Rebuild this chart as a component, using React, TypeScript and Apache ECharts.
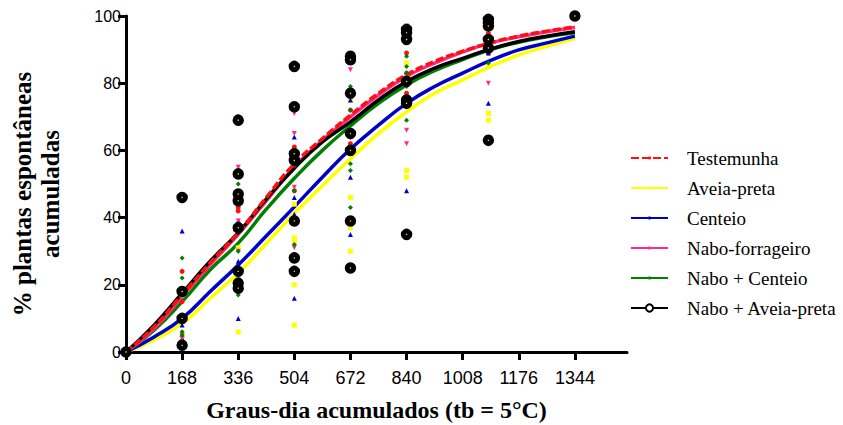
import React, { useEffect, useRef } from "react";
import * as echarts from "echarts";

const seriesNames = [
  "Testemunha",
  "Aveia-preta",
  "Centeio",
  "Nabo-forrageiro",
  "Nabo + Centeio",
  "Nabo + Aveia-preta",
];

const xTicks = [0, 168, 336, 504, 672, 840, 1008, 1176, 1344];
const yTitleLines = ["% plantas espontâneas", "acumuladas"];
const xTitle = "Graus-dia acumulados (tb = 5°C)";

// fitted curves
const curveX = [0, 84, 168, 252, 336, 420, 504, 588, 672, 756, 840, 924, 1008, 1092, 1176, 1260, 1344];
const curveTestemunha = [0, 7.5, 17, 26.5, 35.5, 46, 56, 63.5, 70.5, 77, 82.5, 86.5, 89.5, 92, 94, 95.5, 96.8];
const curveAveia = [0, 3.6, 8.5, 16, 23.5, 32.3, 41.3, 49.5, 57.5, 65, 71.5, 77, 81, 85, 88.4, 91, 93.3];
const curveCenteio = [0, 4.5, 10, 18, 25.9, 34.5, 43.2, 52, 60.4, 67.5, 74, 79, 83, 86.8, 89.9, 92, 94];
const curveNabo = [0, 7, 16.5, 26, 35, 45, 55, 63, 70, 76.5, 82, 86, 89.3, 92, 93.8, 95.3, 96.6];
const curveNaboCenteio = [0, 6.5, 15, 24.5, 32.4, 42.5, 51.7, 60, 67.3, 74, 79.5, 83.7, 87, 90, 92.2, 93.8, 95];
const curveNaboAveia = [0, 8, 17.5, 27, 35.5, 45.5, 54.7, 62.5, 68.5, 75, 80.5, 84.5, 87.4, 90.2, 92.4, 94, 95.3];

// observed points [x, y]
const obsTestemunha = [
  [0, 0], [168, 24], [168, 17], [168, 15], [336, 43], [336, 42], [336, 36],
  [504, 61], [504, 55.6], [504, 48], [672, 78], [672, 72], [672, 62],
  [840, 89], [840, 83], [840, 77], [1085, 95], [1085, 92], [1085, 89], [1344, 100],
];
const obsAveia = [
  [0, 0], [168, 17], [168, 5], [168, 3], [336, 31], [336, 22], [336, 6],
  [504, 44], [504, 34], [504, 33], [504, 20], [504, 8],
  [672, 75], [672, 46], [672, 37], [672, 30],
  [840, 86], [840, 54], [840, 52], [1085, 96], [1085, 85], [1085, 71], [1085, 69], [1344, 100],
];
const obsCenteio = [
  [0, 0], [168, 36], [168, 8], [168, 4], [336, 39], [336, 27], [336, 25], [336, 10],
  [504, 64], [504, 46], [504, 41], [504, 16], [672, 75], [672, 52], [672, 35],
  [840, 81], [840, 48], [1085, 89], [1085, 74], [1344, 100],
];
const obsNabo = [
  [0, 0], [168, 5], [168, 4], [336, 55], [336, 39], [336, 30],
  [504, 71], [504, 65], [504, 49], [504, 31], [672, 84], [672, 60],
  [840, 97], [840, 66], [840, 62], [1085, 97], [1085, 80], [1344, 100],
];
const obsNaboCenteio = [
  [0, 0], [168, 28], [168, 22], [168, 6], [168, 5], [336, 50], [336, 30], [336, 17],
  [504, 48], [504, 32], [672, 79], [672, 72], [672, 64], [672, 56], [672, 54], [672, 43],
  [840, 88], [840, 85], [840, 83], [840, 79], [840, 69], [1085, 93], [1085, 86], [1344, 100],
];
const obsNaboAveia = [
  [0, 0], [168, 46], [168, 18], [168, 10], [168, 2],
  [336, 69], [336, 53], [336, 47], [336, 45], [336, 37], [336, 24], [336, 20.5], [336, 19],
  [504, 85], [504, 73], [504, 59], [504, 57], [504, 39], [504, 28], [504, 24],
  [672, 88], [672, 87], [672, 77], [672, 65], [672, 60], [672, 39], [672, 25],
  [840, 96], [840, 95], [840, 93], [840, 80.5], [840, 75], [840, 74], [840, 35],
  [1085, 99], [1085, 98], [1085, 97], [1085, 93], [1085, 90.5], [1085, 63], [1344, 100],
];

const colors = ["#ff1010", "#ffff00", "#0000cc", "#ff2b8a", "#008000", "#000000"];

function pairs(xs: number[], ys: number[]) {
  return xs.map((x, i) => [x, ys[i]]);
}

export default function App() {
  const ref = useRef<HTMLDivElement>(null);
  useEffect(() => {
    if (!ref.current) return;
    const chart = echarts.init(ref.current, undefined, { renderer: "svg" });
    const curves = [curveTestemunha, curveAveia, curveCenteio, curveNabo, curveNaboCenteio, curveNaboAveia];
    const obs = [obsTestemunha, obsAveia, obsCenteio, obsNabo, obsNaboCenteio, obsNaboAveia];
    const lineOrder = [1, 2, 4, 3, 5, 0];
    const lineSeries = lineOrder.map((i) => ({
      type: "line",
      name: seriesNames[i],
      data: pairs(curveX, curves[i]),
      smooth: true,
      showSymbol: false,
      symbol: "circle",
      symbolSize: 8,
      itemStyle: i === 5 ? { color: "#fff", borderColor: "#000", borderWidth: 3 } : { color: colors[i] },
      lineStyle: { color: colors[i], width: 3.5, type: i === 0 ? [8, 3] : "solid" },
      z: 2,
    }));
    const symbols = ["circle", "rect", "triangle", "triangle", "diamond", "circle"];
    const scatterSeries = [0, 1, 2, 3, 4, 5].map((i) => ({
      type: "scatter",
      name: seriesNames[i],
      data: obs[i],
      symbol: symbols[i],
      symbolRotate: i === 3 ? 180 : 0,
      symbolSize: i === 5 ? 6.5 : 5,
      itemStyle:
        i === 5
          ? { color: "#e8e800", borderColor: "#000", borderWidth: 5, opacity: 1 }
          : { color: colors[i], opacity: 1 },
      z: 3,
    }));
    const legendText = {
      fontFamily: "Liberation Serif",
      fontSize: 19,
      color: "#000",
      lineHeight: 20,
      padding: [0, 0, 0, 14],
    };
    const titleStyle = {
      fontFamily: "Liberation Serif",
      fontWeight: "bold",
      fontSize: 25,
      fill: "#000",
      textAlign: "center",
      textVerticalAlign: "middle",
    };
    chart.setOption({
      animation: false,
      grid: { left: 126, right: 216, top: 16, bottom: 73, containLabel: false, outerBoundsMode: "none" },
      graphic: [
        { type: "text", x: 22, y: 194, rotation: Math.PI / 2, style: { ...titleStyle, text: yTitleLines[0] } },
        { type: "text", x: 50, y: 194, rotation: Math.PI / 2, style: { ...titleStyle, text: yTitleLines[1] } },
      ],
      legend: [
        {
          orient: "vertical",
          left: 625,
          top: 143,
          itemWidth: 37,
          itemHeight: 4,
          itemGap: 10,
          data: seriesNames.slice(0, 5),
          selectedMode: false,
          textStyle: legendText,
        },
        {
          orient: "vertical",
          left: 625,
          top: 293,
          itemWidth: 37,
          itemHeight: 9,
          itemGap: 10,
          data: seriesNames.slice(5),
          selectedMode: false,
          textStyle: legendText,
        },
      ],
      xAxis: {
        type: "value",
        min: 0,
        max: 1500,
        splitLine: { show: false },
        axisLine: { lineStyle: { color: "#000", width: 3 } },
        axisTick: { show: true, length: 8, lineStyle: { color: "#000", width: 3 }, customValues: xTicks },
        axisLabel: {
          customValues: xTicks,
          formatter: (v: number) => String(v),
          fontFamily: "Liberation Sans",
          fontSize: 18,
          color: "#000",
          margin: 17,
        },
        name: xTitle,
        nameLocation: "middle",
        nameGap: 46,
        nameTextStyle: { fontFamily: "Liberation Serif", fontWeight: "bold", fontSize: 24, color: "#000" },
      },
      yAxis: {
        type: "value",
        min: 0,
        max: 100,
        interval: 20,
        splitLine: { show: false },
        axisLine: { show: true, lineStyle: { color: "#000", width: 3 } },
        axisTick: { show: true, length: 8, lineStyle: { color: "#000", width: 3 } },
        axisLabel: { fontFamily: "Liberation Sans", fontSize: 16, color: "#000", margin: 5 },
      },
      series: [...lineSeries, ...scatterSeries],
    });
    return () => chart.dispose();
  }, []);
  return (
    <div
      ref={ref}
      style={{ position: "absolute", left: 0, top: 0, width: 843, height: 425 }}
    />
  );
}
